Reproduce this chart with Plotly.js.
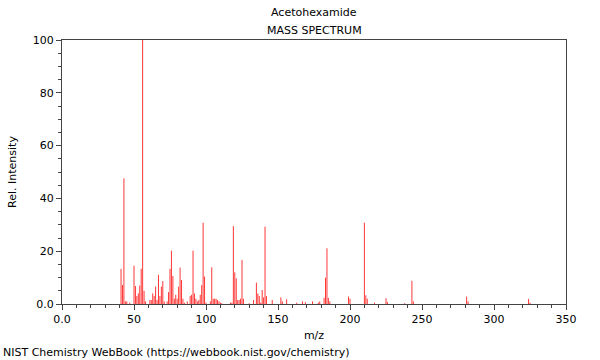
<!DOCTYPE html>
<html>
<head>
<meta charset="utf-8">
<script src="https://cdn.plot.ly/plotly-3.0.1.min.js"></script>
<style>html,body{margin:0;padding:0;background:#fff;}#chart{width:600px;height:360px;}</style>
</head>
<body>
<div id="chart"></div>
<script>
// m/z values and relative intensities
const mz = [41,42,43,44,45,47,50,51,52,53,54,55,56,57,58,61,62,63,64,65,66,67,68,69,70,71,73,74,75,76,77,78,79,80,81,82,83,84,85,87,89,90,91,92,93,94,95,96,97,98,99,100,103,104,105,106,107,108,109,110,111,117,118,119,120,121,122,123,124,125,126,130,133,135,136,137,138,139,140,141,142,146,152,153,156,163,167,169,174,178,179,182,183,184,185,186,199,200,210,211,212,217,225,226,238,243,244,281,282,324,325];
const intensity = [13.3,7.2,47.6,1,1,0.5,14.5,6.8,3,4,7,13.3,100,5,1,1.5,1.5,4,3,6.6,1.5,11,3,6.6,8.7,1,1,4.5,13.3,20.2,10.6,2,3.5,2,6.6,13.8,9.1,2,0.5,1,3,3.5,20.2,4,2,1,1.5,3.5,7.2,30.8,10.4,0.5,1,13.9,2,2,2,1.5,1,0.5,0.3,0.5,0.5,29.5,12,9.7,1.5,1.5,2,16.7,2,0.3,1.5,8.1,4,3,0.5,5.3,2.5,29.3,3,1.5,2.5,1,1.8,0.5,1,0.7,1,0.5,1,2.3,10,21.1,2.3,1,2.8,2,30.8,3.3,2,0.5,2.2,0.7,0.3,8.8,1,2.8,1,1.9,0.5];
const xTickVals = [0,50,100,150,200,250,300,350];
const xTickText = ["0.0","50","100","150","200","250","300","350"];
const yTickVals = [0,20,40,60,80,100];
const yTickText = ["0.0","20","40","60","80","100"];
const compound = "Acetohexamide";
const subtitle = "MASS SPECTRUM";
const credit = "NIST Chemistry WebBook (https://webbook.nist.gov/chemistry)";

const lx = [], ly = [];
mz.forEach((m, i) => { lx.push(m, m, null); ly.push(0, intensity[i], null); });

const font = {family: "DejaVu Sans, sans-serif", size: 11, color: "#000"};
const axisCommon = {
  showline: true, mirror: true, linecolor: "#444", linewidth: 1,
  ticks: "outside", ticklen: 5, tickcolor: "#444", tickwidth: 1,
  showgrid: false, zeroline: false, tickfont: font
};

const data = [{
  x: lx, y: ly, type: "scatter", mode: "lines",
  line: {color: "rgb(255,55,55)", width: 1}, hoverinfo: "skip", connectgaps: false
}];

const layout = {
  width: 600, height: 360,
  margin: {l: 62, r: 34, t: 40, b: 56},
  paper_bgcolor: "#fff", plot_bgcolor: "#fff",
  font: font, showlegend: false,
  xaxis: Object.assign({}, axisCommon, {
    range: [0, 350], tickvals: xTickVals, ticktext: xTickText,
    minor: {dtick: 10, ticks: "outside", ticklen: 3, tickcolor: "#444", showgrid: false},
    title: {text: "m/z", font: font, standoff: 6}
  }),
  yaxis: Object.assign({}, axisCommon, {
    range: [0, 100], tickvals: yTickVals, ticktext: yTickText,
    minor: {dtick: 5, ticks: "outside", ticklen: 3, tickcolor: "#444", showgrid: false},
    title: {text: "Rel. Intensity", font: font, standoff: 13}
  }),
  annotations: [
    {text: compound, xref: "paper", yref: "paper", x: 0.5, showarrow: false, font: font, xanchor: "center", yanchor: "middle"},
    {text: subtitle, xref: "paper", yref: "paper", x: 0.5, showarrow: false, font: font, xanchor: "center", yanchor: "middle"},
    {text: credit, xref: "paper", yref: "paper", x: 0, showarrow: false, font: font, xanchor: "left", yanchor: "middle"}
  ]
};
const ph = 360 - 40 - 56, pw = 600 - 62 - 34;
layout.annotations[0].y = 1 + (40 - 13) / ph;
layout.annotations[1].y = 1 + (40 - 30) / ph;
layout.annotations[2].y = -(352 - 304) / ph;
layout.annotations[2].x = -(62 - 1) / pw;

Plotly.newPlot("chart", data, layout, {staticPlot: true, displayModeBar: false});
</script>
</body>
</html>
